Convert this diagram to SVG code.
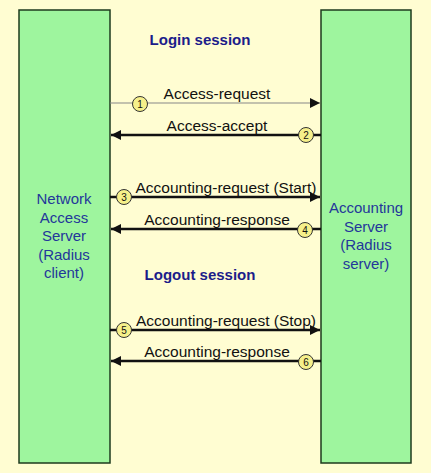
<svg xmlns="http://www.w3.org/2000/svg" width="431" height="473" viewBox="0 0 431 473">
<defs>
<style>
.bar{fill:#9ef59e;stroke:#1e3a1e;stroke-width:1.5}
.node{font-family:"Liberation Sans",Arial,sans-serif;font-size:15px;fill:#23379a;text-anchor:middle}
.title{font-family:"Liberation Sans",Arial,sans-serif;font-size:15px;font-weight:bold;fill:#1c1c8a;text-anchor:middle}
.lbl{font-family:"Liberation Sans",Arial,sans-serif;font-size:15.5px;fill:#111;text-anchor:middle}
.thick{stroke:#111;stroke-width:2.5;fill:none}
.thin{stroke:#888;stroke-width:1.2;fill:none}
.num{fill:#f6f08a;stroke:#333;stroke-width:1}
.numt{font-family:"Liberation Sans",Arial,sans-serif;font-size:10px;fill:#111;text-anchor:middle}
</style>
<marker id="ah" viewBox="0 0 10 10" refX="10" refY="5" markerWidth="10" markerHeight="10" markerUnits="userSpaceOnUse" orient="auto">
<path d="M0,0 L10,5 L0,10 z" fill="#111"/>
</marker>
</defs>
<rect width="431" height="473" fill="#fffdd2"/>
<g id="nas">
<rect class="bar" x="19" y="10" width="91" height="453"/>
<text class="node" x="64" y="204">Network</text>
<text class="node" x="64" y="222.5">Access</text>
<text class="node" x="64" y="241">Server</text>
<text class="node" x="64" y="259.5">(Radius</text>
<text class="node" x="64" y="278">client)</text>
</g>
<g id="acct">
<rect class="bar" x="321" y="10" width="90" height="453"/>
<text class="node" x="366" y="213">Accounting</text>
<text class="node" x="366" y="231.5">Server</text>
<text class="node" x="366" y="250">(Radius</text>
<text class="node" x="366" y="268.5">server)</text>
</g>
<g id="titles">
<text class="title" x="200" y="45">Login session</text>
<text class="title" x="200" y="280">Logout session</text>
</g>
<g id="connectors">
<line class="thin" x1="110" y1="103" x2="320" y2="103" marker-end="url(#ah)"/>
<line class="thick" x1="321" y1="135" x2="111" y2="135" marker-end="url(#ah)"/>
<line class="thick" x1="110" y1="197" x2="320" y2="197" marker-end="url(#ah)"/>
<line class="thick" x1="321" y1="229" x2="111" y2="229" marker-end="url(#ah)"/>
<line class="thick" x1="110" y1="330" x2="320" y2="330" marker-end="url(#ah)"/>
<line class="thick" x1="321" y1="361" x2="111" y2="361" marker-end="url(#ah)"/>
<text class="lbl" x="217" y="99">Access-request</text>
<text class="lbl" x="217" y="131">Access-accept</text>
<text class="lbl" x="226" y="193">Accounting-request (Start)</text>
<text class="lbl" x="217" y="225">Accounting-response</text>
<text class="lbl" x="226" y="326">Accounting-request (Stop)</text>
<text class="lbl" x="217" y="357">Accounting-response</text>
<circle class="num" cx="140" cy="104" r="7.5"/><text class="numt" x="140" y="107.5">1</text>
<circle class="num" cx="306" cy="135" r="7.5"/><text class="numt" x="306" y="138.5">2</text>
<circle class="num" cx="124" cy="197" r="7.5"/><text class="numt" x="124" y="200.5">3</text>
<circle class="num" cx="305" cy="230" r="7.5"/><text class="numt" x="305" y="233.5">4</text>
<circle class="num" cx="124" cy="330" r="7.5"/><text class="numt" x="124" y="333.5">5</text>
<circle class="num" cx="306" cy="362" r="7.5"/><text class="numt" x="306" y="365.5">6</text>
</g>
</svg>
